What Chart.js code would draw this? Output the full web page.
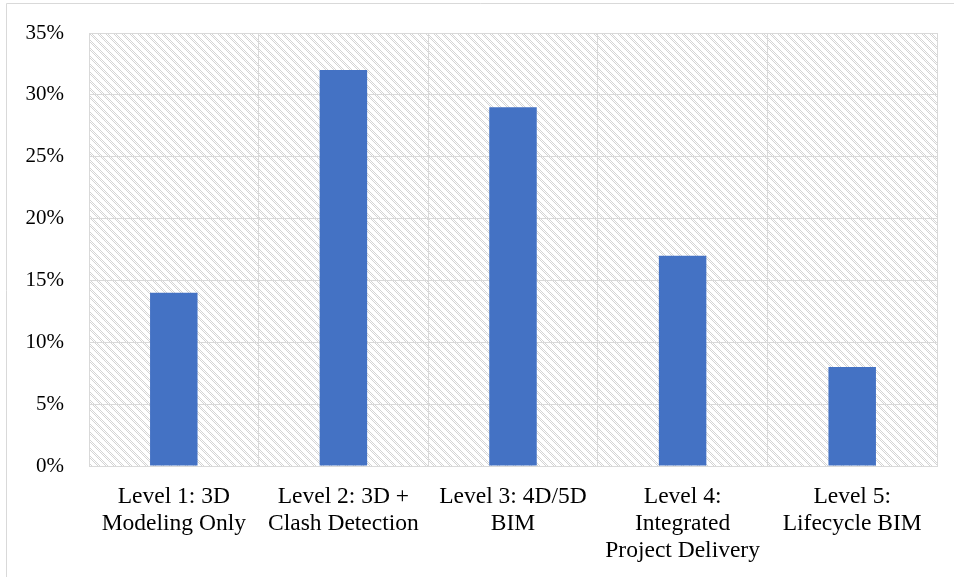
<!DOCTYPE html>
<html>
<head>
<meta charset="utf-8">
<script src="https://cdn.jsdelivr.net/npm/chart.js@4/dist/chart.umd.min.js"></script>
<style>
  html, body { margin: 0; padding: 0; background: #ffffff; }
  #wrap { width: 954px; height: 577px; position: relative; }
</style>
</head>
<body>
<div id="wrap"><canvas id="chart" width="954" height="577"></canvas></div>
<script>
// BIM maturity levels and share of respondents
const categories = [
  ['Level 1: 3D', 'Modeling Only'],
  ['Level 2: 3D +', 'Clash Detection'],
  ['Level 3: 4D/5D', 'BIM'],
  ['Level 4:', 'Integrated', 'Project Delivery'],
  ['Level 5:', 'Lifecycle BIM']
];
const shares = [14, 32, 29, 17, 8];
const yTicks = [0, 5, 10, 15, 20, 25, 30, 35];

// Diagonal dotted hatch used as the plot-area fill
function makeHatch() {
  const c = document.createElement('canvas');
  c.width = 8; c.height = 8;
  const g = c.getContext('2d');
  g.fillStyle = '#ffffff';
  g.fillRect(0, 0, 8, 8);
  g.fillStyle = '#d4d4d4';
  for (let y = 0; y < 8; y++) {
    for (let x = 0; x < 8; x++) {
      const d = ((x - y) % 8 + 8) % 8;
      if (d < 4 && (x + y) % 2 === 0) g.fillRect(x, y, 1, 1);
    }
  }
  return c;
}

const plotBackground = {
  id: 'plotBackground',
  beforeDraw(chart) {
    const { ctx, chartArea: a } = chart;
    ctx.save();
    ctx.fillStyle = ctx.createPattern(makeHatch(), 'repeat');
    ctx.fillRect(a.left, a.top, a.right - a.left, a.bottom - a.top);
    // frame around the whole figure
    ctx.strokeStyle = '#d9d9d9';
    ctx.lineWidth = 1;
    ctx.beginPath();
    ctx.moveTo(6.5, 577);
    ctx.lineTo(6.5, 3.5);
    ctx.lineTo(954, 3.5);
    ctx.stroke();
    ctx.restore();
  }
};

new Chart(document.getElementById('chart'), {
  type: 'bar',
  data: {
    labels: categories,
    datasets: [{
      data: shares,
      backgroundColor: '#4472C4',
      borderWidth: 0,
      barPercentage: 0.28,
      categoryPercentage: 1.0
    }]
  },
  options: {
    responsive: false,
    animation: false,
    devicePixelRatio: 1,
    layout: { padding: { left: 0, top: 33, right: 17, bottom: 0 } },
    plugins: {
      legend: { display: false },
      tooltip: { enabled: false }
    },
    scales: {
      x: {
        offset: true,
        grid: { offset: true, color: '#d9d9d9', lineWidth: 1, drawTicks: false },
        border: { color: '#d9d9d9' },
        ticks: {
          color: '#000000',
          font: { family: 'Liberation Serif', size: 23.5, lineHeight: 1.15 },
          padding: 17,
          maxRotation: 0,
          autoSkip: false
        },
        afterFit(scale) { scale.height = 111; }
      },
      y: {
        min: 0,
        max: 35,
        afterBuildTicks(scale) { scale.ticks = yTicks.map(v => ({ value: v })); },
        grid: { color: '#d9d9d9', lineWidth: 1, drawTicks: false },
        border: { color: '#d9d9d9' },
        ticks: {
          color: '#000000',
          // single-line labels: a small line height keeps the top label from pushing the plot down
          font: { family: 'Liberation Serif', size: 21, lineHeight: 0.4 },
          padding: 25,
          callback: v => v + '%'
        },
        afterFit(scale) { scale.width = 89; }
      }
    }
  },
  plugins: [plotBackground]
});
</script>
</body>
</html>
